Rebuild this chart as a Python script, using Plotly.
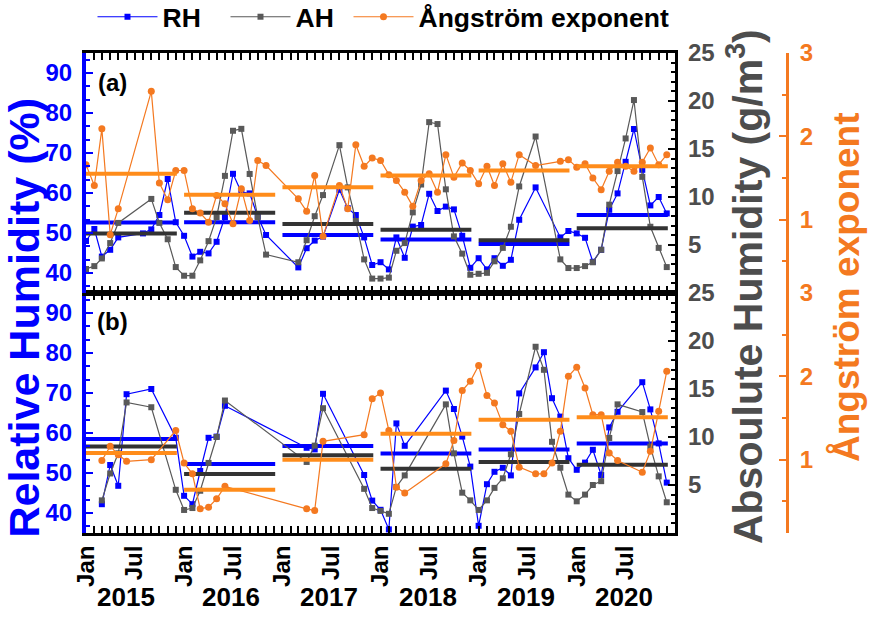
import datetime as dt
import plotly.graph_objects as go

# ---------------- data (month index: 0 = Jan 2015) ----------------
# Panel (a)
a_rh_m = [0, 1, 2, 3, 4, 7, 8, 9, 10, 11, 12, 13, 14, 15, 16, 17, 18, 19, 20, 21, 22, 26, 27, 28, 29, 31, 32, 33, 34, 35,
          36, 37, 38, 39, 40, 41, 42, 43, 44, 45, 46, 47, 48, 49, 50, 51, 52, 53, 55, 58, 59, 60, 61, 62, 63, 64, 65, 66,
          67, 68, 69, 70, 71]
a_rh = [48.0, 51.0, 44.1, 45.8, 48.9, 49.9, 50.9, 54.5, 63.5, 52.7, 49.3, 44.1, 45.3, 44.9, 47.8, 54.0, 64.8, 60.2, 59.9,
        54.1, 49.5, 41.4, 46.2, 48.1, 49.1, 60.8, 56.2, 54.5, 48.9, 42.0, 42.7, 40.9, 48.9, 43.8, 51.6, 52.0, 59.8, 55.5,
        56.6, 55.9, 49.3, 41.3, 43.7, 40.9, 43.7, 41.8, 43.3, 53.3, 61.4, 48.9, 50.5, 49.9, 48.8, 42.8, 45.8, 55.8, 59.9,
        67.8, 76.0, 65.8, 56.9, 59.0, 54.9]
a_ah_m = [0, 1, 2, 3, 4, 8, 9, 10, 11, 12, 13, 14, 15, 16, 17, 18, 19, 20, 21, 22, 26, 27, 28, 29, 31, 32, 33, 34, 35,
          36, 37, 38, 39, 40, 41, 42, 43, 44, 45, 46, 47, 48, 49, 50, 51, 52, 53, 55, 58, 59, 60, 61, 62, 63, 64, 65, 66,
          67, 68, 69, 70, 71]
a_ah = [2.5, 2.8, 3.6, 5.2, 7.3, 9.8, 7.3, 5.6, 2.7, 1.8, 1.8, 3.4, 5.4, 7.9, 12.2, 16.9, 17.1, 12.4, 7.9, 4.0, 3.2, 5.5,
        8.0, 10.2, 15.4, 11.0, 7.5, 3.5, 1.5, 1.5, 1.6, 4.4, 5.2, 8.4, 11.3, 17.8, 17.6, 10.8, 5.9, 4.1, 1.9, 2.0, 2.1,
        3.3, 4.7, 6.9, 11.1, 16.3, 3.5, 2.6, 2.6, 2.8, 3.2, 4.5, 9.2, 12.7, 16.1, 20.1, 12.1, 6.9, 4.7, 2.7]
a_ae_m = a_ah_m
a_ae = [1.66, 1.41, 2.09, 0.82, 1.13, 2.54, 1.44, 1.24, 1.59, 1.59, 1.13, 1.08, 0.97, 1.29, 1.19, 0.95, 1.37, 0.99, 1.71,
        1.65, 1.25, 1.10, 1.53, 0.80, 1.41, 1.13, 1.90, 1.64, 1.74, 1.71, 1.54, 1.47, 1.33, 1.16, 1.47, 1.55, 1.33, 1.78,
        1.51, 1.68, 1.59, 1.43, 1.64, 1.41, 1.67, 1.45, 1.78, 1.65, 1.70, 1.72, 1.63, 1.67, 1.50, 1.36, 1.58, 1.69, 1.64,
        1.58, 1.69, 1.86, 1.66, 1.78]

# Panel (b)
b_m = [2, 3, 4, 5, 8, 11, 12, 13, 14, 15, 16, 17, 27, 28, 29, 34, 35, 36, 37, 38, 39, 44, 45, 46, 47, 48, 49, 50, 51,
       52, 53, 55, 56, 57, 58, 59, 60, 61, 62, 63, 64, 65, 68, 69, 70, 71]
b_rh = [42.2, 52.0, 46.8, 69.7, 71.0, 58.8, 44.3, 42.2, 50.5, 58.8, 59.1, 66.8, 56.3, 55.9, 69.8, 49.5, 43.1, 40.8, 35.9,
        62.4, 56.8, 70.6, 66.0, 59.1, 51.6, 36.8, 47.2, 50.3, 51.3, 49.4, 69.9, 76.4, 80.2, 68.7, 64.1, 53.7, 50.8, 52.6,
        55.8, 49.5, 61.4, 65.3, 72.7, 65.9, 57.4, 47.6]
b_ah = [3.4, 6.2, 8.3, 13.6, 13.1, 4.5, 2.4, 2.6, 4.4, 7.3, 10.0, 13.8, 7.4, 9.1, 13.0, 4.6, 2.6, 2.3, 2.0, 4.8, 6.0,
        13.4, 8.3, 4.2, 3.4, 2.4, 3.4, 4.7, 5.7, 8.2, 12.4, 19.4, 17.0, 9.5, 6.8, 4.0, 3.3, 4.0, 5.0, 5.4, 9.9, 13.4,
        12.6, 9.0, 5.9, 3.2]
b_ae = [0.99, 1.16, 1.06, 0.98, 1.00, 1.35, 0.96, 0.83, 0.41, 0.43, 0.53, 0.68, 0.41, 0.39, 1.22, 1.30, 1.73, 1.80,
        1.35, 0.67, 0.60, 0.95, 1.23, 1.83, 1.94, 2.13, 1.77, 1.68, 1.42, 1.34, 0.91, 0.83, 0.83, 0.96, 1.34, 2.00, 2.11,
        1.86, 1.54, 1.54, 1.08, 0.99, 0.85, 1.10, 1.58, 2.06]

# Annual means
years = [2015, 2016, 2017, 2018, 2019, 2020]
a_rh_mean = [52.6, 52.7, 49.5, 48.4, 47.25, 54.5]
a_ah_mean = [6.2, 8.35, 7.2, 6.6, 5.5, 6.75]
a_ae_mean = [1.55, 1.30, 1.39, 1.53, 1.59, 1.64]
b_rh_mean = [58.5, 52.25, 56.75, 54.9, 55.9, 57.4]
b_ah_mean = [9.0, 6.15, 8.1, 6.7, 7.4, 7.1]
b_ae_mean = [1.08, 0.64, 1.00, 1.31, 1.48, 1.51]

year_labels = ["2015", "2016", "2017", "2018", "2019", "2020"]
month_tick_vals = [dt.date(y, mo, 1) for y in years for mo in (1, 7)]
month_tick_text = ["Jan", "Jul"] * len(years)

# ---------------- styling ----------------
FONT = "Liberation Sans, Arial, sans-serif"
BLUE = "#0000FF"
GRAY = "#595959"
GRAY_MEAN = "#333333"
GRAY_TXT = "#4D4D4D"
ORANGE = "#F47920"
ORANGE_MEAN = "#FF8C1A"


def mdate(m):
    return dt.date(2015 + m // 12, m % 12 + 1, 1)


def mean_xy(means):
    xs, ys = [], []
    for y, v in zip(years, means):
        xs += [dt.date(y, 1, 1), dt.date(y, 12, 5), None]
        ys += [v, v, None]
    return xs, ys


fig = go.Figure()


def add_series(months, vals, xa, ya, color, symbol, size, name, legend, lw=None):
    kw = dict(legendwidth=lw) if lw else {}
    fig.add_trace(go.Scatter(
        x=[mdate(m) for m in months], y=vals, xaxis=xa, yaxis=ya, name=name,
        mode="lines+markers", showlegend=legend,
        line=dict(color=color, width=1.2),
        marker=dict(symbol=symbol, size=size, color=color, line=dict(width=0)), **kw))


def add_mean(means, xa, ya, color):
    xs, ys = mean_xy(means)
    fig.add_trace(go.Scatter(x=xs, y=ys, xaxis=xa, yaxis=ya, mode="lines", showlegend=False,
                             line=dict(color=color, width=4), hoverinfo="skip"))


# Panel (a): x2 / y4 (RH), y5 (AH), y6 (AE)
add_series(a_rh_m, a_rh, "x2", "y4", BLUE, "square", 6, "RH", True, 58)
add_mean(a_rh_mean, "x2", "y4", BLUE)
add_series(a_ah_m, a_ah, "x2", "y5", GRAY, "square", 6, "AH", True, 48)
add_mean(a_ah_mean, "x2", "y5", GRAY_MEAN)
add_series(a_ae_m, a_ae, "x2", "y6", ORANGE, "circle", 7, "Ångström exponent", True)
add_mean(a_ae_mean, "x2", "y6", ORANGE_MEAN)

# Panel (b): x / y (RH), y2 (AH), y3 (AE)
add_series(b_m, b_rh, "x", "y", BLUE, "square", 6, "RH", False)
add_mean(b_rh_mean, "x", "y", BLUE)
add_series(b_m, b_ah, "x", "y2", GRAY, "square", 6, "AH", False)
add_mean(b_ah_mean, "x", "y2", GRAY_MEAN)
add_series(b_m, b_ae, "x", "y3", ORANGE, "circle", 7, "Ångström exponent", False)
add_mean(b_ae_mean, "x", "y3", ORANGE_MEAN)

L, R, T, B = 85.5, 83, 53, 87
W, H = 870, 620
PW = W - L - R
PH = H - T - B
XD = (675 - L) / PW


def px_x(px):
    return (px - L) / PW


def px_y(py):
    return (H - B - py) / PH


xcommon = dict(type="date", range=["2015-01-01", "2021-01-01"], domain=[0, XD],
               tickmode="array", tickvals=month_tick_vals, ticktext=month_tick_text,
               ticks="inside", ticklen=7, tickwidth=2, tickcolor="black",
               showline=True, linecolor="black", linewidth=3, mirror="allticks",
               showgrid=False, zeroline=False,
               minor=dict(tickmode="linear", tick0="2015-01-01", dtick="M1", ticks="inside", ticklen=4,
                          tickwidth=1.5, tickcolor="black"))

rh_common = dict(range=[35, 95], tickvals=[40, 50, 60, 70, 80, 90], ticks="inside", ticklen=7, tickwidth=2,
                 tickcolor=BLUE, showline=True, linecolor=BLUE, linewidth=4, showgrid=False, zeroline=False,
                 tickfont=dict(family=FONT, size=24, color=BLUE, weight="bold"), ticklabelstandoff=5,
                 minor=dict(tick0=40, dtick=10 / 3, ticks="inside", ticklen=4, tickwidth=1.5, tickcolor=BLUE))
ah_common = dict(range=[0, 25], tickvals=[5, 10, 15, 20, 25], side="right", ticks="inside", ticklen=7, tickwidth=2,
                 tickcolor="black", showline=True, linecolor="black", linewidth=3, showgrid=False, zeroline=False,
                 tickfont=dict(family=FONT, size=24, color=GRAY_TXT, weight="bold"), ticklabelstandoff=5,
                 minor=dict(dtick=1, ticks="inside", ticklen=4, tickwidth=1.5, tickcolor="black"))
ae_common = dict(range=[0.12, 3.0], tickvals=[1, 2, 3], side="right", anchor="free", position=1.0,
                 ticks="inside", ticklen=7, tickwidth=2, tickcolor=ORANGE, showline=True, linecolor=ORANGE,
                 linewidth=3, showgrid=False, zeroline=False,
                 tickfont=dict(family=FONT, size=24, color=ORANGE, weight="bold"), ticklabelstandoff=6,
                 minor=dict(dtick=0.5, ticks="inside", ticklen=4, tickwidth=1.5, tickcolor=ORANGE))

fig.update_layout(
    width=W, height=H, margin=dict(l=L, r=R, t=T, b=B, autoexpand=False),
    paper_bgcolor="white", plot_bgcolor="white",
    font=dict(family=FONT, color="black"),
    xaxis=dict(**xcommon, anchor="y", tickangle=-90,
               tickfont=dict(family=FONT, size=24, color="black", weight="bold")),
    xaxis2=dict(**xcommon, anchor="y4", matches="x", showticklabels=False),
    yaxis=dict(**rh_common, domain=[0, 0.5], anchor="x"),
    yaxis2=dict(**ah_common, overlaying="y", anchor="x"),
    yaxis3=dict(**ae_common, overlaying="y"),
    yaxis4=dict(**rh_common, domain=[0.5, 1], anchor="x2"),
    yaxis5=dict(**ah_common, overlaying="y4", anchor="x2"),
    yaxis6=dict(**ae_common, overlaying="y4"),
    legend=dict(orientation="h", x=px_x(92), xanchor="left", y=px_y(-7), yanchor="top",
                font=dict(family=FONT, size=26.5, color="black", weight="bold"),
                itemwidth=60, bgcolor="rgba(0,0,0,0)", traceorder="normal"),
    showlegend=True,
)

ann = []
ann.append(dict(text="(a)", x=px_x(112), y=px_y(82), xref="paper", yref="paper", showarrow=False,
                xanchor="center", yanchor="middle",
                font=dict(family=FONT, size=24, color="black", weight="bold")))
ann.append(dict(text="(b)", x=px_x(112), y=px_y(321), xref="paper", yref="paper", showarrow=False,
                xanchor="center", yanchor="middle",
                font=dict(family=FONT, size=24, color="black", weight="bold")))
ann.append(dict(text="Relative Humidity (%)", textangle=-90, x=px_x(23), y=px_y(318),
                xref="paper", yref="paper", showarrow=False, xanchor="center", yanchor="middle",
                font=dict(family=FONT, size=43, color=BLUE, weight="bold")))
ann.append(dict(text="Absoulute Humidity (g/m<sup>3</sup>)", textangle=-90, x=px_x(745), y=px_y(287),
                xref="paper", yref="paper", showarrow=False, xanchor="center", yanchor="middle",
                font=dict(family=FONT, size=41, color=GRAY_TXT, weight="bold")))
ann.append(dict(text="Ångström exponent", textangle=-90, x=px_x(846), y=px_y(287),
                xref="paper", yref="paper", showarrow=False, xanchor="center", yanchor="middle",
                font=dict(family=FONT, size=37, color=ORANGE, weight="bold")))
for i, lab in enumerate(year_labels):
    xpos = dt.date(years[i], 6, 25) if i > 0 else dt.date(years[i], 5, 28)
    ann.append(dict(text=lab, x=xpos, y=px_y(597), xref="x", yref="paper", showarrow=False,
                    xanchor="center", yanchor="middle",
                    font=dict(family=FONT, size=26, color="black", weight="bold")))
fig.update_layout(annotations=ann)

fig.write_html("out.html", config={"displayModeBar": False},
               post_script="document.body.style.margin='0';document.body.style.padding='0';")
